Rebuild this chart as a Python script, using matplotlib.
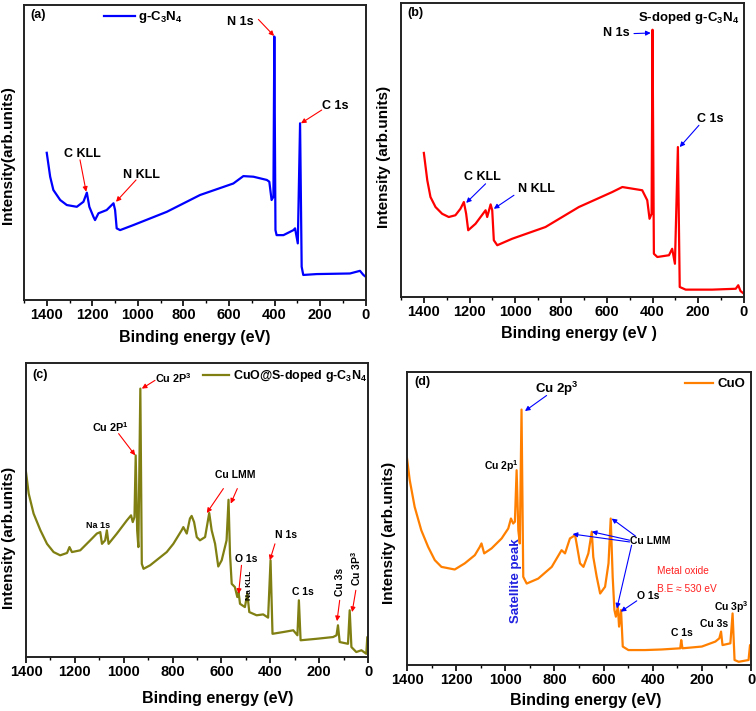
import matplotlib
matplotlib.use("Agg")
import matplotlib.pyplot as plt
from matplotlib.ticker import MultipleLocator

plt.rcParams['font.family'] = ['Liberation Sans', 'DejaVu Sans']
plt.rcParams['font.weight'] = 'bold'
plt.rcParams['mathtext.fontset'] = 'custom'
plt.rcParams['mathtext.bf'] = 'Liberation Sans:bold'
plt.rcParams['mathtext.rm'] = 'Liberation Sans:bold'
plt.rcParams['mathtext.default'] = 'bf'

# ---------------- data (binding energy eV, intensity a.u.) ----------------
energy_a = [1400, 1385, 1371, 1341, 1312, 1268, 1239, 1224, 1213, 1195, 1188, 1173, 1137,
            1107, 1100, 1093, 1078, 1020, 873, 727, 581, 537, 493, 434, 423, 413, 405, 401,
            396, 391, 361, 317, 310, 298, 288, 281, 274, 215, 69, 25, 10, 0]
inten_a = [49.9, 41.8, 37.3, 33.9, 32.2, 31.6, 33.3, 36.4, 31.6, 28.2, 27.1, 29.4, 30.5,
           32.8, 30.5, 24.3, 23.7, 25.4, 29.9, 35.6, 39.5, 42.0, 41.8, 40.7, 40.1, 33.9, 35.0, 89.3,
           23.7, 22.0, 22.0, 23.7, 24.3, 19.2, 59.9, 11.3, 8.5, 8.8, 9.0, 9.9, 8.5, 7.9]

energy_b = [1400, 1385, 1371, 1349, 1320, 1291, 1262, 1240, 1225, 1215, 1206, 1174, 1130,
            1123, 1108, 1101, 1094, 1079, 1014, 868, 722, 576, 532, 445, 423, 413, 404, 400,
            394, 379, 328, 314, 302, 289, 281, 255, 139, 36, 25, 15, 0]
inten_b = [49.0, 39.7, 34.0, 30.6, 28.3, 27.2, 27.8, 30.0, 32.3, 28.3, 22.7, 24.9, 29.5,
           27.2, 31.5, 29.5, 19.3, 17.6, 19.8, 23.8, 30.6, 35.7, 37.4, 36.3, 32.9, 26.6, 28.3, 90.9,
           14.7, 13.6, 14.2, 16.4, 11.3, 51.0, 3.4, 2.5, 2.5, 2.8, 4.0, 2.0, 1.1]

energy_c = [1400, 1389, 1369, 1341, 1314, 1287, 1260, 1232, 1222, 1212, 1178, 1137, 1110,
            1096, 1089, 1076, 1069, 1062, 1028, 987, 970, 963, 956, 951, 945, 940, 932, 926,
            919, 892, 824, 797, 763, 756, 742, 729, 722, 712, 701, 688, 667, 650, 640, 626,
            613, 599, 579, 571, 565, 558, 545, 535, 530, 524, 504, 494, 486, 456, 429, 409,
            399, 391, 347, 306, 289, 283, 276, 211, 143, 129, 123, 116, 82, 75, 68, 48, 27,
            7, 3, 0]
inten_c = [62.9, 55.6, 48.8, 43.1, 38.5, 35.7, 34.6, 35.4, 37.4, 35.7, 36.3, 39.7, 42.0,
           42.5, 38.5, 39.7, 43.1, 38.5, 42.0, 46.5, 48.2, 45.9, 47.6, 68.6, 43.1, 37.4, 91.3, 31.7,
           30.0, 31.2, 35.7, 38.5, 43.1, 44.2, 42.0, 47.1, 48.0, 45.9, 40.8, 39.7, 40.8, 49.0, 43.1, 38.5,
           30.8, 32.9, 39.7, 53.5, 35.1, 24.9, 23.8, 20.4, 22.1, 18.1, 17.0, 21.5, 15.3, 14.2, 14.5, 13.4,
           32.9, 7.9, 8.5, 9.1, 7.4, 19.3, 5.7, 6.2, 6.8, 7.4, 10.8, 5.1, 4.5, 15.9, 3.4, 1.7, 2.3,
           1.1, 6.8, 6.8]

energy_d = [1400, 1389, 1369, 1342, 1314, 1287, 1260, 1206, 1165, 1124, 1104, 1097, 1086,
            1056, 1015, 988, 977, 968, 961, 954, 947, 941, 934, 927, 913, 866, 811, 771, 757,
            737, 716, 710, 696, 682, 662, 648, 642, 628, 614, 594, 580, 571, 563, 556, 550,
            542, 537, 529, 522, 499, 431, 363, 288, 284, 279, 200, 145, 129, 122, 116, 84, 75,
            67, 50, 10, 4, 0]
inten_d = [70.5, 63.1, 54.0, 46.0, 40.3, 35.8, 33.5, 32.6, 34.7, 37.5, 40.3, 41.5, 38.1,
           39.8, 43.2, 46.6, 50.0, 48.3, 48.9, 66.5, 46.0, 41.5, 87.2, 30.1, 27.8, 29.5, 33.5, 39.2, 38.1,
           43.2, 44.3, 41.5, 34.7, 33.5, 38.1, 45.5, 36.9, 30.1, 24.4, 26.7, 34.7, 50.0, 30.1, 18.8, 16.5,
           19.9, 13.1, 18.8, 6.3, 5.1, 5.1, 5.3, 5.7, 8.5, 5.7, 6.3, 8.0, 9.1, 11.4, 6.8, 7.4, 17.6,
           1.7, 1.1, 1.7, 6.8, 6.3]

xticks = [0, 200, 400, 600, 800, 1000, 1200, 1400]

# ---------------- figure ----------------
fig = plt.figure(figsize=(7.56, 7.11), dpi=100)
axA = fig.add_axes([0.0317, 0.578, 0.452, 0.415])
axB = fig.add_axes([0.5304, 0.5823, 0.4537, 0.4135])
axC = fig.add_axes([0.0344, 0.0759, 0.4524, 0.4135])
axD = fig.add_axes([0.5384, 0.0647, 0.455, 0.412])


def style(ax, xmax, ylabel, xlabel, ylab_pos, xlab_pos):
    ax.set_xlim(xmax, 0)
    ax.set_ylim(0, 100)
    ax.set_yticks([])
    ax.set_xticks(xticks)
    ax.xaxis.set_minor_locator(MultipleLocator(100))
    ax.tick_params(axis='x', which='major', direction='out', length=4, width=1.2,
                   labelsize=10.5, pad=2)
    ax.tick_params(axis='x', which='minor', direction='out', length=2.5, width=1)
    for lbl in ax.get_xticklabels():
        lbl.set_fontweight('bold')
    for s in ax.spines.values():
        s.set_linewidth(1.4)
        s.set_color('#222222')
    ax.set_ylabel(ylabel, fontsize=11, fontweight='bold')
    ax.set_xlabel(xlabel, fontsize=11.5, fontweight='bold')
    ax.yaxis.set_label_coords(*ylab_pos)
    ax.xaxis.set_label_coords(*xlab_pos)


def arrow(ax, tail, head, color):
    ax.annotate('', xy=head, xytext=tail,
                arrowprops=dict(arrowstyle='-|>', color=color, lw=0.8,
                                mutation_scale=7, shrinkA=0, shrinkB=0))


LW = 1.6

# ---- (a) ----
lineA, = axA.plot(energy_a, inten_a, color='#0000ff', lw=LW, label=r'g-C$_3$N$_4$')
style(axA, 1500, 'Intensity(arb.units)', 'Binding energy (eV)', (-0.026, 0.49), (0.5, -0.10))
axA.legend(handles=[lineA], loc='upper left', bbox_to_anchor=(0.2, 1.025), frameon=False,
           handlelength=2.3, handletextpad=0.3, prop={'size': 9.5, 'weight': 'bold'})
axA.text(0.018, 0.985, '(a)', transform=axA.transAxes, fontsize=9, fontweight='bold', va='top')
axA.text(551, 94.4, 'N 1s', fontsize=9, ha='center', va='center')
arrow(axA, (471, 95.1), (402, 89.5), 'red')
axA.text(135, 65.8, 'C 1s', fontsize=9, ha='center', va='center')
arrow(axA, (193, 64.4), (284, 59.9), 'red')
axA.text(1242, 49.5, 'C KLL', fontsize=9, ha='center', va='center')
arrow(axA, (1254, 47.5), (1227, 36.7), 'red')
axA.text(983, 42.4, 'N KLL', fontsize=9, ha='center', va='center')
arrow(axA, (1008, 40.7), (1096, 33.3), 'red')

# ---- (b) ----
axB.plot(energy_b, inten_b, color='#ff0000', lw=LW)
style(axB, 1500, 'Intensity (arb.units)', 'Binding energy (eV )', (-0.029, 0.476), (0.52, -0.10))
axB.text(0.02, 0.985, '(b)', transform=axB.transAxes, fontsize=9, fontweight='bold', va='top')
axB.text(0.985, 0.975, r'S-doped g-C$_3$N$_4$', transform=axB.transAxes, fontsize=9.5,
         ha='right', va='top')
axB.text(558, 89.9, 'N 1s', fontsize=9, ha='center', va='center')
arrow(axB, (481, 89.6), (408, 89.8), 'blue')
axB.text(146, 60.4, 'C 1s', fontsize=9, ha='center', va='center')
arrow(axB, (197, 58.4), (281, 51.0), 'blue')
axB.text(1142, 40.8, 'C KLL', fontsize=9, ha='center', va='center')
arrow(axB, (1130, 38.5), (1215, 32.0), 'blue')
axB.text(908, 36.8, 'N KLL', fontsize=9, ha='center', va='center')
arrow(axB, (1006, 34.6), (1094, 30.0), 'blue')

# ---- (c) ----
lineC, = axC.plot(energy_c, inten_c, color='#7f7f12', lw=LW, label=r'CuO@S-doped g-C$_3$N$_4$')
style(axC, 1400, 'Intensity (arb.units)', 'Binding energy (eV)', (-0.029, 0.405), (0.56, -0.117))
axC.legend(handles=[lineC], loc='upper left', bbox_to_anchor=(0.485, 1.02), frameon=False,
           handlelength=2.1, handletextpad=0.25, prop={'size': 9, 'weight': 'bold'})
axC.text(0.02, 0.98, '(c)', transform=axC.transAxes, fontsize=9, fontweight='bold', va='top')
axC.text(797, 94.9, r'Cu 2P$^3$', fontsize=7.8, ha='center', va='center')
arrow(axC, (872, 94.1), (926, 91.3), 'red')
axC.text(1055, 78.2, r'Cu 2P$^1$', fontsize=7.8, ha='center', va='center')
arrow(axC, (1021, 76.0), (953, 68.6), 'red')
axC.text(1106, 44.8, 'Na 1s', fontsize=6.5, ha='center', va='center')
axC.text(545, 61.8, 'Cu LMM', fontsize=7.5, ha='center', va='center')
arrow(axC, (592, 57.3), (660, 49.0), 'red')
arrow(axC, (535, 57.3), (562, 52.2), 'red')
axC.text(497, 33.4, 'O 1s', fontsize=7.5, ha='center', va='center')
arrow(axC, (518, 31.2), (530, 21.5), 'red')
axC.text(484, 24.4, 'Na KLL', fontsize=6, ha='center', va='center', rotation=90)
axC.text(334, 41.4, 'N 1s', fontsize=7.5, ha='center', va='center')
arrow(axC, (381, 38.5), (402, 32.9), 'red')
axC.text(268, 22.1, 'C 1s', fontsize=7.5, ha='center', va='center')
axC.text(116, 25.5, 'Cu 3s', fontsize=7.5, ha='center', va='center', rotation=90)
arrow(axC, (116, 19.3), (127, 12.2), 'red')
axC.text(48, 30.0, r'Cu 3P$^3$', fontsize=7.5, ha='center', va='center', rotation=90)
arrow(axC, (50, 22.7), (65, 15.3), 'red')

# ---- (d) ----
lineD, = axD.plot(energy_d, inten_d, color='#ff8000', lw=LW, label='CuO')
style(axD, 1400, 'Intensity (arb.units)', 'Binding energy (eV)', (-0.032, 0.45), (0.52, -0.096))
axD.legend(handles=[lineD], loc='upper left', bbox_to_anchor=(0.775, 1.02), frameon=False,
           handlelength=2.1, handletextpad=0.3, prop={'size': 9.5, 'weight': 'bold'})
axD.text(0.02, 0.985, '(d)', transform=axD.transAxes, fontsize=9, fontweight='bold', va='top')
axD.text(791, 94.3, r'Cu 2p$^3$', fontsize=9.5, ha='center', va='center')
arrow(axD, (832, 92.0), (920, 86.7), 'blue')
axD.text(1015, 67.8, r'Cu 2p$^1$', fontsize=7.5, ha='center', va='center')
axD.text(958, 28.9, 'Satellite peak', fontsize=9.5, ha='center', va='center', rotation=90,
         color='#2020e0')
axD.text(410, 42.4, 'Cu LMM', fontsize=7.5, ha='center', va='center')
arrow(axD, (470, 44.0), (567, 50.0), 'blue')
arrow(axD, (494, 42.6), (648, 45.5), 'blue')
arrow(axD, (494, 42.0), (726, 44.7), 'blue')
arrow(axD, (486, 40.9), (546, 19.3), 'blue')
axD.text(417, 23.5, 'O 1s', fontsize=7.5, ha='center', va='center')
arrow(axD, (465, 21.9), (530, 18.2), 'blue')
axD.text(279, 32.2, 'Metal oxide', fontsize=7.3, ha='center', va='center', color='#ff2020',
         fontweight='normal')
axD.text(261, 26.1, 'B.E ≈ 530 eV', fontsize=7.3, ha='center', va='center', color='#ff2020',
         fontweight='normal')
axD.text(281, 11.0, 'C 1s', fontsize=7.5, ha='center', va='center')
axD.text(152, 14.0, 'Cu 3s', fontsize=7.5, ha='center', va='center')
axD.text(78, 19.7, r'Cu 3p$^3$', fontsize=7.5, ha='center', va='center')

fig.savefig('out.png', dpi=100)
